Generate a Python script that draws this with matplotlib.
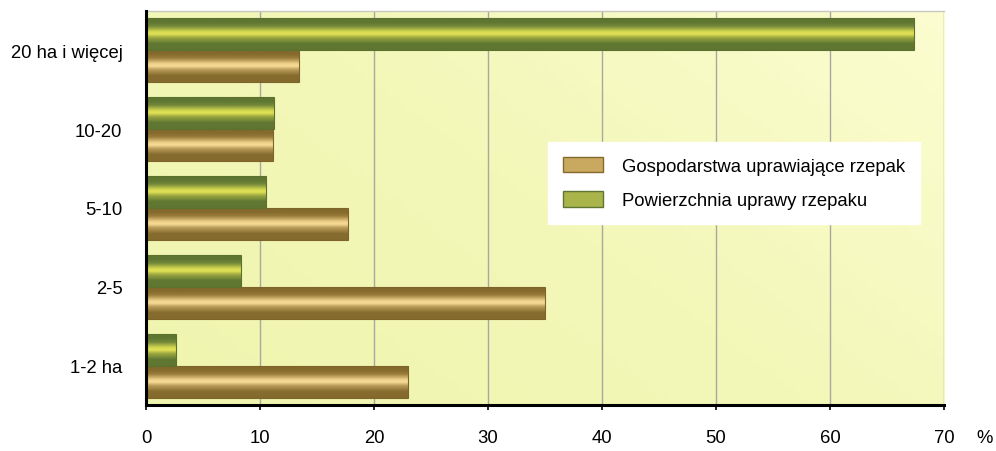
import matplotlib
matplotlib.use("Agg")
import matplotlib.pyplot as plt
import numpy as np
from matplotlib.colors import LinearSegmentedColormap
from matplotlib.patches import Patch

plt.rcParams['font.family'] = ['Liberation Sans', 'DejaVu Sans']

categories = ["1-2 ha", "2-5", "5-10", "10-20", "20 ha i więcej"]
gospodarstwa = [23.0, 35.0, 17.7, 11.1, 13.4]
powierzchnia = [2.6, 8.3, 10.5, 11.2, 67.4]
series_names = ["Gospodarstwa uprawiające rzepak", "Powierzchnia uprawy rzepaku"]
xticks = [0, 10, 20, 30, 40, 50, 60, 70]

brown_cmap = LinearSegmentedColormap.from_list(
    "brown", [(0.0, "#846A2C"), (0.2, "#866C2E"), (0.38, "#B89A58"), (0.5, "#F8DC96"),
              (0.58, "#EED08A"), (0.75, "#9C7E3C"), (0.88, "#846A2C"), (1.0, "#846A2C")])
green_cmap = LinearSegmentedColormap.from_list(
    "green", [(0.0, "#5E7631"), (0.2, "#607832"), (0.38, "#98A440"), (0.5, "#E2E256"),
              (0.58, "#D4D850"), (0.75, "#74883A"), (0.88, "#5E7631"), (1.0, "#5E7631")])

fig = plt.figure(figsize=(9.96, 4.52), dpi=100)
ax = fig.add_axes([146/996, 46/452, (944-146)/996, (406-12)/452])

# background gradient (lighter towards the top right)
bg = LinearSegmentedColormap.from_list("bg", ["#EFF5AE", "#F3F7B8", "#FCFDD0"])
gx = np.linspace(0, 1, 256)
gy = np.linspace(0, 1, 64)
G = (gx[None, :] * 0.6 + gy[:, None] * 0.4)
ax.imshow(G, cmap=bg, extent=[0, 70, -0.5, 4.5], aspect='auto', origin='lower', zorder=0)

h = 0.405
y = np.arange(len(categories))
grad = np.linspace(0, 1, 64)[:, None]

def draw_bars(vals, offset, cmap, edge, label):
    bars = ax.barh(y + offset, vals, height=h, color='none', edgecolor=edge, linewidth=0.8,
                   label=label, zorder=4)
    for b in bars:
        x0, y0 = b.get_x(), b.get_y()
        w, hh = b.get_width(), b.get_height()
        ax.imshow(grad, cmap=cmap, extent=[x0, x0 + w, y0, y0 + hh], aspect='auto',
                  origin='lower', zorder=3)
    return bars

draw_bars(gospodarstwa, -h/2, brown_cmap, "#7E6428", series_names[0])
draw_bars(powierzchnia, h/2, green_cmap, "#5A722E", series_names[1])

ax.set_xlim(0, 70)
ax.set_ylim(-0.5, 4.5)
ax.set_xticks(xticks)
ax.set_xticklabels([str(t) for t in xticks], fontsize=13.3)
ax.set_yticks(y)
ax.set_yticklabels(categories, fontsize=13.3)
ax.tick_params(axis='y', length=0, pad=17)
ax.tick_params(axis='x', length=3.6, width=1.2, pad=14, direction='out')
ax.grid(axis='x', color='#A8A8A0', linewidth=1, zorder=1)
ax.set_axisbelow(True)
ax.spines['right'].set_visible(False)
ax.spines['top'].set_color('#C8C8C0')
ax.spines['top'].set_linewidth(1)
ax.spines['left'].set_linewidth(2.2)
ax.spines['bottom'].set_linewidth(2.2)
ax.spines['left'].set_zorder(5)
ax.spines['bottom'].set_zorder(5)

fig.text(985/996, 1 - 439/452, "%", fontsize=13.3, ha='center', va='center')

handles = [Patch(facecolor='#C9A860', edgecolor='#846A2C'),
           Patch(facecolor='#A9B44A', edgecolor='#5E7631')]
leg = ax.legend(handles, series_names, loc='upper left', bbox_to_anchor=((548-146)/798, (406-143)/394),
                fontsize=13.3, frameon=True, fancybox=False, edgecolor='white', facecolor='white',
                framealpha=1, borderpad=0.8, labelspacing=0.9, handlelength=2.2, handleheight=0.9,
                handletextpad=1.0, borderaxespad=0)
leg.set_zorder(6)

fig.savefig("out.png", dpi=100)
